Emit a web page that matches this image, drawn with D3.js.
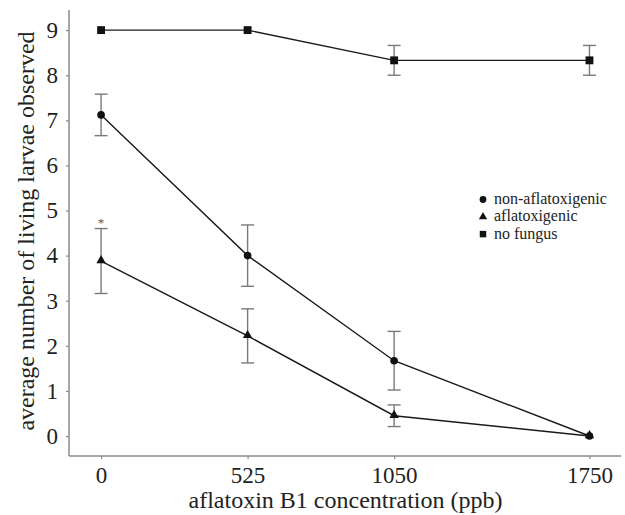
<!DOCTYPE html>
<html>
<head>
<meta charset="utf-8">
<script src="https://cdn.jsdelivr.net/npm/d3@7"></script>
<style>
  html, body { margin: 0; padding: 0; background: #fff; }
  svg { display: block; }
  svg text { font-family: "Liberation Serif"; }
</style>
</head>
<body>
<svg id="chart" width="625" height="515"></svg>
<script>
// Aflatoxin B1 dose levels (ppb)
const concentrations = [0, 525, 1050, 1750];
const xTickLabels = ["0", "525", "1050", "1750"];
const yTickValues = [0, 1, 2, 3, 4, 5, 6, 7, 8, 9];

// Mean living larvae and error half-widths per treatment
const nonAflaMeans = [7.12, 4.0, 1.67, 0];
const nonAflaErr   = [0.46, 0.68, 0.65, 0];
const aflaMeans    = [3.88, 2.22, 0.45, 0];
const aflaErr      = [0.72, 0.60, 0.24, 0];
const noFungusMeans = [9, 9, 8.33, 8.33];
const noFungusErr   = [0, 0, 0.33, 0.33];

const seriesNames = ["non-aflatoxigenic", "aflatoxigenic", "no fungus"];
const seriesShapes = ["circle", "triangle", "square"];

// Significance marker above the aflatoxigenic 0 ppb bar
const starConc = 0;
const starValue = 4.78;

const serif = "Liberation Serif";
const svg = d3.select("#chart");
const plot = { left: 69, right: 621, top: 10, bottom: 456 };

const x = d3.scaleLinear().domain([-115, 1863]).range([plot.left, plot.right]);
const y = d3.scaleLinear().domain([-0.443, 9.446]).range([plot.bottom, plot.top]);

const axisColor = "#8a8a8a";
const errColor = "#7a7a7a";

// Axes
const yAxis = svg.append("g")
  .attr("transform", `translate(${plot.left},0)`)
  .call(d3.axisLeft(y).tickValues(yTickValues).tickSize(3).tickPadding(8).tickFormat(d3.format("d")));
const xAxis = svg.append("g")
  .attr("transform", `translate(0,${plot.bottom})`)
  .call(d3.axisBottom(x).tickValues(concentrations).tickSize(3).tickPadding(8)
    .tickFormat((d, i) => xTickLabels[i]));

[yAxis, xAxis].forEach(g => {
  g.attr("font-family", null).attr("font-size", null);
  g.select(".domain").attr("stroke", axisColor).attr("stroke-width", 1.5);
  g.selectAll(".tick line").attr("stroke", axisColor).attr("stroke-width", 1.2);
  g.selectAll(".tick text").attr("fill", "#222")
    .style("font-family", serif).style("font-size", "23px");
});
// keep the axis lines as plain segments spanning the plot
yAxis.select(".domain").attr("d", `M0,${plot.top}V${plot.bottom}`);
xAxis.select(".domain").attr("d", `M${plot.left},0H${plot.right}`);

// Axis titles
svg.append("text")
  .attr("x", 345.5).attr("y", 508)
  .attr("text-anchor", "middle")
  .style("font-family", serif).style("font-size", "24px").attr("fill", "#222")
  .text("aflatoxin B1 concentration (ppb)");
svg.append("text")
  .attr("transform", `translate(34,231) rotate(-90)`)
  .attr("text-anchor", "middle")
  .style("font-family", serif).style("font-size", "24px").attr("fill", "#222")
  .text("average number of living larvae observed");

const series = [
  { means: nonAflaMeans, err: nonAflaErr, shape: "circle" },
  { means: aflaMeans, err: aflaErr, shape: "triangle" },
  { means: noFungusMeans, err: noFungusErr, shape: "square" }
];

const symbolOf = {
  circle: d3.symbol().type(d3.symbolCircle).size(46),
  triangle: d3.symbol().type(d3.symbolTriangle).size(38),
  square: d3.symbol().type(d3.symbolSquare).size(62)
};

const line = d3.line().x(d => x(d.c)).y(d => y(d.v));
const capHalf = 6.5;

series.forEach(s => {
  const pts = concentrations.map((c, i) => ({ c, v: s.means[i], e: s.err[i] }));

  // error bars
  const eb = svg.append("g").attr("stroke", errColor).attr("stroke-width", 1.4).attr("fill", "none");
  pts.filter(p => p.e > 0).forEach(p => {
    const cx = x(p.c), y1 = y(p.v + p.e), y2 = y(p.v - p.e);
    eb.append("line").attr("x1", cx).attr("x2", cx).attr("y1", y1).attr("y2", y2);
    eb.append("line").attr("x1", cx - capHalf).attr("x2", cx + capHalf).attr("y1", y1).attr("y2", y1);
    eb.append("line").attr("x1", cx - capHalf).attr("x2", cx + capHalf).attr("y1", y2).attr("y2", y2);
  });

  // connecting line
  svg.append("path").datum(pts)
    .attr("d", line)
    .attr("fill", "none").attr("stroke", "#1a1a1a").attr("stroke-width", 1.4);

  // markers
  svg.append("g").selectAll("path").data(pts).join("path")
    .attr("d", symbolOf[s.shape])
    .attr("transform", p => `translate(${x(p.c)},${y(p.v) + (s.shape === "triangle" ? -0.5 : 0)})`)
    .attr("fill", "#111");
});

// asterisk
svg.append("text")
  .attr("x", x(starConc)).attr("y", y(starValue) + 7)
  .attr("text-anchor", "middle")
  .style("font-family", serif).style("font-size", "13px").attr("fill", "#555")
  .text("*");

// Legend
const legendSymbols = { circle: d3.symbolCircle, triangle: d3.symbolTriangle, square: d3.symbolSquare };
const legendSizes = { circle: 36, triangle: 30, square: 42 };
const legend = svg.append("g");
seriesNames.forEach((name, i) => {
  const ly = 199.5 + i * 17.3;
  legend.append("path")
    .attr("d", d3.symbol().type(legendSymbols[seriesShapes[i]]).size(legendSizes[seriesShapes[i]]))
    .attr("transform", `translate(483,${ly})`)
    .attr("fill", "#111");
  legend.append("text")
    .attr("x", 494).attr("y", ly + 4.5)
    .style("font-family", serif).style("font-size", "16px").attr("fill", "#222")
    .text(name);
});
</script>
</body>
</html>
